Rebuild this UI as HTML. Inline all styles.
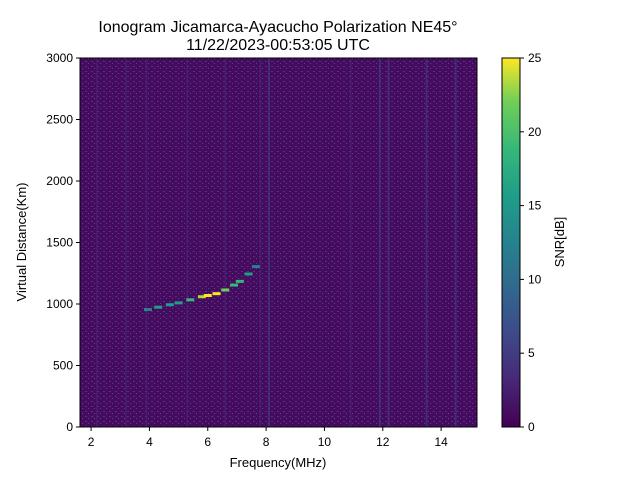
<!DOCTYPE html>
<html><head><meta charset="utf-8"><style>
body{margin:0;background:#fff;}
svg text{font-family:"Liberation Sans",sans-serif;fill:#000;}
</style></head><body>
<svg id="chart" width="640" height="480" xmlns="http://www.w3.org/2000/svg">
<defs>
<linearGradient id="vir" x1="0" y1="1" x2="0" y2="0">
<stop offset="0" stop-color="#440154"/><stop offset="0.13" stop-color="#482878"/><stop offset="0.25" stop-color="#3e4989"/><stop offset="0.38" stop-color="#31688e"/><stop offset="0.5" stop-color="#26828e"/><stop offset="0.63" stop-color="#1f9e89"/><stop offset="0.75" stop-color="#35b779"/><stop offset="0.88" stop-color="#6ece58"/><stop offset="1" stop-color="#fde725"/>
</linearGradient>
<pattern id="noise" width="6" height="5" patternUnits="userSpaceOnUse">
<rect width="6" height="5" fill="#460a5e"/>
<rect x="1" y="1" width="2" height="1" fill="#55317e"/>
<rect x="4" y="3" width="1" height="1" fill="#3b528b"/>
</pattern>
</defs>
<text x="278" y="32" font-size="16" text-anchor="middle">Ionogram Jicamarca-Ayacucho Polarization NE45°</text>
<text x="278" y="50" font-size="16" text-anchor="middle">11/22/2023-00:53:05 UTC</text>
<g id="plot"></g>
<rect x="80" y="58" width="397" height="369" fill="none" stroke="#000" stroke-width="1"/>
<g id="axes"></g>
<text x="278" y="467" font-size="13" text-anchor="middle">Frequency(MHz)</text>
<text transform="translate(26,242) rotate(-90)" font-size="13" text-anchor="middle">Virtual Distance(Km)</text>
<rect x="502" y="58" width="18" height="369" fill="url(#vir)" stroke="#000" stroke-width="1"/>
<g id="cbaxis"></g>
<text transform="translate(564,242) rotate(-90)" font-size="13" text-anchor="middle">SNR[dB]</text>
</svg>
<script>
const xTicks=[2,4,6,8,10,12,14];
const yTicks=[0,500,1000,1500,2000,2500,3000];
const cTicks=[0,5,10,15,20,25];
const stripeFreqs=[2.2,3.2,3.9,5.3,6.6,7.8,8.1,10.9,11.9,12.2,13.5,14.5];
const stripeSNR=[4,3,3,3,4,4,6,3,5,6,5,5];
const traceFreq=[3.95,4.3,4.7,5.0,5.4,5.8,6.0,6.3,6.6,6.9,7.1,7.4,7.65];
const traceDist=[951,970,990,1005,1030,1055,1065,1080,1110,1150,1180,1240,1300];
const traceSNR=[12,14,15,15,17,22,25,24,20,16,18,14,12];
const NS="http://www.w3.org/2000/svg";
const X0=80,X1=477,Y0=427,Y1=58,FMIN=1.62,FMAX=15.23;
const xs=f=>X0+(f-FMIN)/(FMAX-FMIN)*(X1-X0);
const ys=d=>Y0-d/3000*(Y0-Y1);
const cs=v=>427-v/25*369;
const vir=["#440154","#482878","#3e4989","#31688e","#26828e","#1f9e89","#35b779","#6ece58","#b5de2b","#fde725"];
const col=v=>vir[Math.max(0,Math.min(9,Math.round(v/25*9)))];
function mk(t,a,p){const e=document.createElementNS(NS,t);for(const k in a)e.setAttribute(k,a[k]);(p||document.getElementById('plot')).appendChild(e);return e;}
const plot=document.getElementById('plot');
let bg=mk('rect',{x:X0,y:Y1,width:X1-X0,height:Y0-Y1,fill:'url(#noise)'});


stripeFreqs.forEach((f,i)=>{const r=mk('rect',{x:xs(f)-1,y:Y1,width:2,height:Y0-Y1,fill:col(stripeSNR[i]),opacity:0.5});

});
traceFreq.forEach((f,i)=>{const r=mk('rect',{x:xs(f)-4,y:ys(traceDist[i])-2,width:8,height:3,fill:col(traceSNR[i])});

});
const ax=document.getElementById('axes');
xTicks.forEach(t=>{const x=xs(t);mk('line',{x1:x,x2:x,y1:427,y2:431,stroke:'#000'},ax);
const tx=mk('text',{x:x,y:446,'font-size':12,'text-anchor':'middle'},ax);tx.textContent=t;

});
yTicks.forEach(t=>{const y=ys(t);mk('line',{x1:76,x2:80,y1:y,y2:y,stroke:'#000'},ax);
const tx=mk('text',{x:73,y:y+4,'font-size':12,'text-anchor':'end'},ax);tx.textContent=t;

});
const cb=document.getElementById('cbaxis');
cTicks.forEach(t=>{const y=cs(t);mk('line',{x1:520,x2:524,y1:y,y2:y,stroke:'#000'},cb);
const tx=mk('text',{x:528,y:y+4,'font-size':12},cb);tx.textContent=t;

});
</script>
</body></html>
